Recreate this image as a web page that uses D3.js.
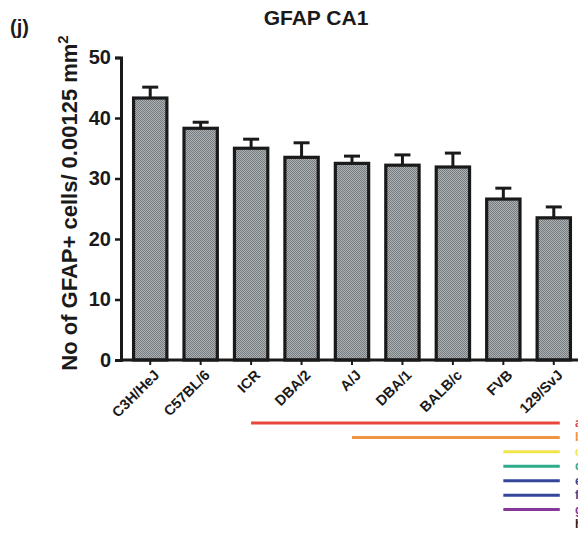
<!DOCTYPE html>
<html>
<head>
<meta charset="utf-8">
<script src="https://cdn.jsdelivr.net/npm/d3@7"></script>
<style>
  body { margin: 0; background: #fff; }
  text { font-family: Arial, "Liberation Sans", sans-serif; font-weight: bold; }
</style>
</head>
<body>
<script>
var strains = ['C3H/HeJ', 'C57BL/6', 'ICR', 'DBA/2', 'A/J', 'DBA/1', 'BALB/c', 'FVB', '129/SvJ'];
var means = [43.3, 38.3, 35.0, 33.5, 32.5, 32.2, 31.9, 26.6, 23.5];
var errs = [1.8, 1.0, 1.5, 2.4, 1.2, 1.7, 2.3, 1.8, 1.8];
var yTicks = [0, 10, 20, 30, 40, 50];

// significance lines below the axis
var sigLetters = ['a', 'b', 'c', 'd', 'e', 'f', 'g', 'h'];
var sigStart = ['ICR', 'A/J', 'FVB', 'FVB', 'FVB', 'FVB', 'FVB'];
var sigColors = ['#e8463c', '#ee9443', '#f0e64c', '#2fab8c', '#34469a', '#34469a', '#86389a', '#222'];

var w = 578, h = 535;
var svg = d3.select('body').append('svg')
  .attr('width', w)
  .attr('height', h);

var pat = svg.append('defs').append('pattern')
  .attr('id', 'hatch')
  .attr('width', 2).attr('height', 2)
  .attr('patternUnits', 'userSpaceOnUse');
pat.append('rect').attr('width', 2).attr('height', 2).attr('fill', '#adb2b5');
pat.append('rect').attr('width', 1).attr('height', 1).attr('fill', '#767b7f');
pat.append('rect').attr('x', 1).attr('y', 1).attr('width', 1).attr('height', 1).attr('fill', '#767b7f');

var x = d3.scaleBand()
  .domain(strains)
  .range([125, 579])
  .paddingInner(0.28)
  .paddingOuter(0.14);

var y = d3.scaleLinear()
  .domain([0, 50])
  .range([360, 57.5]);

// bars
svg.append('g').selectAll('rect')
  .data(strains)
  .enter().append('rect')
  .attr('x', function(d) { return x(d) + 1.5; })
  .attr('y', function(d, i) { return y(means[i]); })
  .attr('width', x.bandwidth() - 3)
  .attr('height', function(d, i) { return y(0) - y(means[i]); })
  .attr('fill', 'url(#hatch)')
  .attr('stroke', '#1a1a1a')
  .attr('stroke-width', 3.2);

// error bars (upper only)
var eb = svg.append('g').attr('stroke', '#1a1a1a').attr('stroke-width', 3);
strains.forEach(function(d, i) {
  var cx = x(d) + x.bandwidth() / 2;
  eb.append('line')
    .attr('x1', cx).attr('x2', cx)
    .attr('y1', y(means[i])).attr('y2', y(means[i] + errs[i]));
  eb.append('line')
    .attr('x1', cx - 8).attr('x2', cx + 8)
    .attr('y1', y(means[i] + errs[i])).attr('y2', y(means[i] + errs[i]));
});

// y axis
var yAxis = d3.axisLeft(y).tickValues(yTicks).tickSize(6).tickPadding(4);
var gy = svg.append('g')
  .attr('transform', 'translate(121,0)')
  .call(yAxis);
gy.select('.domain').attr('stroke', '#1a1a1a').attr('stroke-width', 3);
gy.selectAll('.tick line').attr('stroke', '#1a1a1a').attr('stroke-width', 2.5);
gy.selectAll('.tick text')
  .attr('font-size', 20)
  .attr('fill', '#1a1a1a')
  .attr('font-family', 'Arial, "Liberation Sans", sans-serif')
  .attr('font-weight', 'bold');

// x axis
var xAxis = d3.axisBottom(x).tickSize(5).tickSizeOuter(0).tickFormat('');
var gx = svg.append('g')
  .attr('transform', 'translate(0,' + y(0) + ')')
  .call(xAxis);
gx.select('.domain').attr('d', 'M120,0H578').attr('stroke', '#1a1a1a').attr('stroke-width', 3);
gx.selectAll('.tick line').attr('stroke', '#1a1a1a').attr('stroke-width', 2);

svg.append('g').selectAll('text')
  .data(strains)
  .enter().append('text')
  .attr('transform', function(d) {
    return 'translate(' + (x(d) + x.bandwidth() / 2 + 10) + ',' + (y(0) + 16) + ') rotate(-45)';
  })
  .attr('text-anchor', 'end')
  .attr('font-size', 14.5)
  .attr('fill', '#1a1a1a')
  .text(function(d) { return d; });

// y label
var yl = svg.append('text')
  .attr('transform', 'translate(77,203) rotate(-90)')
  .attr('text-anchor', 'middle')
  .attr('font-size', 22)
  .attr('fill', '#1a1a1a');
yl.append('tspan').text('No of GFAP+ cells/ 0.00125 mm');
yl.append('tspan').attr('dy', -9).attr('font-size', 15).text('2');

// title and panel letter
svg.append('text')
  .attr('x', 316).attr('y', 25)
  .attr('text-anchor', 'middle')
  .attr('font-size', 21)
  .attr('fill', '#1a1a1a')
  .text('GFAP CA1');
svg.append('text')
  .attr('x', 10).attr('y', 34)
  .attr('font-size', 20)
  .attr('fill', '#1a1a1a')
  .text('(j)');

// significance lines
var ys = d3.scalePoint().domain(sigLetters).range([423, 524]);
var lastCx = x(strains[strains.length - 1]) + x.bandwidth() / 2;
svg.append('g').selectAll('line')
  .data(sigStart)
  .enter().append('line')
  .attr('x1', function(d) { return x(d) + x.bandwidth() / 2; })
  .attr('x2', lastCx + 6)
  .attr('y1', function(d, i) { return ys(sigLetters[i]); })
  .attr('y2', function(d, i) { return ys(sigLetters[i]); })
  .attr('stroke', function(d, i) { return sigColors[i]; })
  .attr('stroke-width', 3);

svg.append('g').selectAll('text')
  .data(sigLetters)
  .enter().append('text')
  .attr('x', 575)
  .attr('y', function(d) { return ys(d) + 4; })
  .attr('font-size', 12)
  .attr('font-weight', 'normal')
  .attr('fill', function(d, i) { return sigColors[i]; })
  .text(function(d) { return d; });
</script>
</body>
</html>
